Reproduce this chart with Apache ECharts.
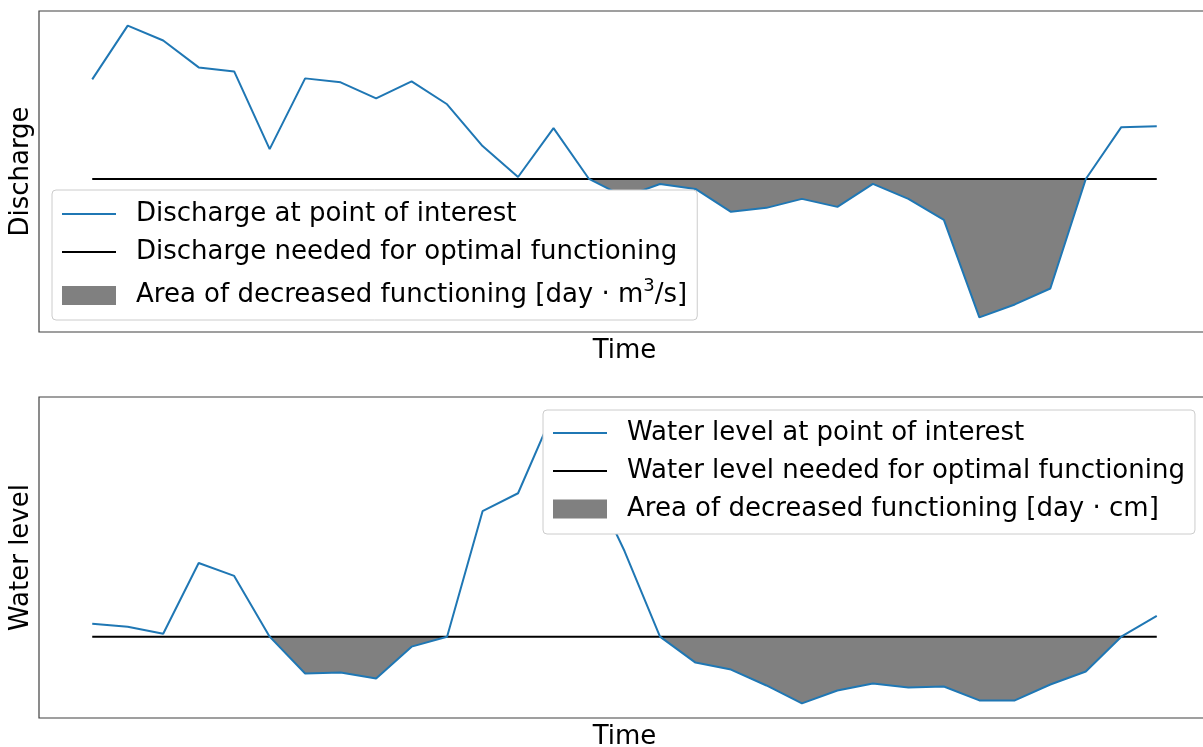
<!DOCTYPE html>
<html>
<head>
<meta charset="utf-8">
<script src="https://cdn.jsdelivr.net/npm/echarts@6/dist/echarts.min.js"></script>
<style>
html,body{margin:0;padding:0;background:#fff;}
#chart{width:1203px;height:747px;}
</style>
</head>
<body>
<div id="chart"></div>
<script>
// ---- data ----
const timeIdx = [0,1,2,3,4,5,6,7,8,9,10,11,12,13,14,15,16,17,18,19,20,21,22,23,24,25,26,27,28,29,30];
const discharge = [25.3, 30.7, 29.2, 26.5, 26.1, 18.3, 25.4, 25.0, 23.4, 25.1, 22.8, 18.6, 15.5, 20.4, 15.3, 13.5,
                   14.8, 14.3, 12.0, 12.4, 13.3, 12.5, 14.8, 13.3, 11.2, 1.4, 2.7, 4.3, 15.3, 20.5, 20.6];
const dischargeNeeded = 15.3;
const waterLevel = [9.4, 9.1, 8.4, 15.5, 14.2, 8.1, 4.4, 4.5, 3.9, 7.1, 8.1, 20.7, 22.5, 30.7, 24.2, 16.7,
                    8.1, 5.5, 4.8, 3.2, 1.4, 2.7, 3.4, 3.0, 3.1, 1.7, 1.7, 3.3, 4.6, 8.1, 10.2];
const waterLevelNeeded = 8.1;

const namesTop = ['Discharge at point of interest', 'Discharge needed for optimal functioning', 'Area of decreased functioning [day · m3/s]'];
const namesBottom = ['Water level at point of interest', 'Water level needed for optimal functioning', 'Area of decreased functioning [day · cm]'];
const yLabels = ['Discharge', 'Water level'];
const xLabel = 'Time';

// ---- style ----
const FONT = 'DejaVu Sans';
const FS = 26;
const BLUE = '#1f77b4';
const GRAY = '#808080';
const LINEICON = 'path://M0,0H54V2H0Z';

const chart = echarts.init(document.getElementById('chart'), null, {renderer: 'canvas'});

function yRange(vals) {
  const mn = Math.min(...vals), mx = Math.max(...vals);
  const r = mx - mn;
  return {min: mn - 0.05 * r, max: mx + 0.05 * r};
}

const grids = [
  {left: 39, top: 11, width: 1171, height: 321},
  {left: 39, top: 397, width: 1171, height: 321}
].map(g => Object.assign(g, {show: true, borderColor: '#404040', borderWidth: 1.2, backgroundColor: 'transparent',
                             containLabel: false, outerBoundsMode: 'none'}));

const xAxes = [0, 1].map(i => ({
  type: 'value', gridIndex: i, min: -1.5, max: 31.5,
  name: xLabel, nameLocation: 'middle', nameGap: 6,
  nameTextStyle: {fontFamily: FONT, fontSize: FS, color: '#000', verticalAlign: 'top'},
  axisLine: {show: false}, axisTick: {show: false}, axisLabel: {show: false}, splitLine: {show: false}
}));

const ranges = [yRange(discharge), yRange(waterLevel)];
const yAxes = [0, 1].map(i => ({
  type: 'value', gridIndex: i, min: ranges[i].min, max: ranges[i].max,
  name: yLabels[i], nameLocation: 'middle', nameGap: 5,
  nameTextStyle: {fontFamily: FONT, fontSize: FS, color: '#000'},
  axisLine: {show: false}, axisTick: {show: false}, axisLabel: {show: false}, splitLine: {show: false}
}));

// polygon of the region where values fall below the needed level
function belowPolygon(values, needed) {
  const pts = [];
  for (let k = 0; k < timeIdx.length; k++) {
    const v = values[k];
    pts.push([timeIdx[k], Math.min(v, needed)]);
    if (k < timeIdx.length - 1) {
      const w = values[k + 1];
      if ((v - needed) * (w - needed) < 0) {
        const f = (needed - v) / (w - v);
        pts.push([timeIdx[k] + f * (timeIdx[k + 1] - timeIdx[k]), needed]);
      }
    }
  }
  pts.push([timeIdx[timeIdx.length - 1], needed]);
  pts.push([timeIdx[0], needed]);
  return pts;
}

function panelSeries(i, values, needed, names) {
  const line = timeIdx.map((t, k) => [t, values[k]]);
  const thr = [[timeIdx[0], needed], [timeIdx[timeIdx.length - 1], needed]];
  const poly = belowPolygon(values, needed);
  return [
    {name: names[2], type: 'custom', xAxisIndex: i, yAxisIndex: i, data: line, color: GRAY,
     itemStyle: {color: GRAY}, silent: true, z: 1, clip: true,
     renderItem: function (params, api) {
       if (params.dataIndex !== 0) return null;
       return {
         type: 'polygon',
         shape: {points: poly.map(p => api.coord(p))},
         style: {fill: GRAY, stroke: null}
       };
     }},
    {name: names[1], type: 'line', xAxisIndex: i, yAxisIndex: i, data: thr,
     symbol: 'none', color: '#000', itemStyle: {color: '#000'}, lineStyle: {color: '#000', width: 2}, z: 3},
    {name: names[0], type: 'line', xAxisIndex: i, yAxisIndex: i, data: line,
     symbol: 'none', color: BLUE, itemStyle: {color: BLUE}, lineStyle: {color: BLUE, width: 2}, z: 4}
  ];
}

function legendFor(names, pos, pad, supName) {
  return {
    orient: 'vertical', left: pos[0], top: pos[1], padding: pad,
    itemWidth: 54, itemHeight: 19, itemGap: 12,
    backgroundColor: '#ffffff', borderColor: '#cccccc', borderWidth: 1, borderRadius: 4,
    selectedMode: false, z: 10,
    data: [
      {name: names[0], icon: LINEICON, itemStyle: {color: BLUE, borderWidth: 0}},
      {name: names[1], icon: LINEICON, itemStyle: {color: '#000', borderWidth: 0}},
      {name: names[2], icon: 'rect', itemStyle: {color: GRAY, borderWidth: 0}}
    ],
    formatter: function (name) {
      if (supName && name === supName) {
        return '{n|Area of decreased functioning [day · m}{sup|3}{n|/s]}';
      }
      return name;
    },
    textStyle: {
      fontFamily: FONT, fontSize: FS, color: '#000', lineHeight: 26, padding: [0, 0, 0, 15],
      rich: {
        n: {fontFamily: FONT, fontSize: FS, color: '#000', lineHeight: 37, verticalAlign: 'middle'},
        sup: {fontFamily: FONT, fontSize: 18, lineHeight: 18, verticalAlign: 'top', padding: [0, 0, 19, 0], color: '#000'}
      }
    }
  };
}

const option = {
  animation: false,
  backgroundColor: '#ffffff',
  grid: grids,
  xAxis: xAxes,
  yAxis: yAxes,
  legend: [
    legendFor(namesTop, [52, 190], [11, 10, 6, 10], namesTop[2]),
    legendFor(namesBottom, [543, 410], [10, 10, 12, 10], null)
  ],
  series: [].concat(
    panelSeries(0, discharge, dischargeNeeded, namesTop),
    panelSeries(1, waterLevel, waterLevelNeeded, namesBottom)
  )
};
chart.setOption(option);
</script>
</body>
</html>
